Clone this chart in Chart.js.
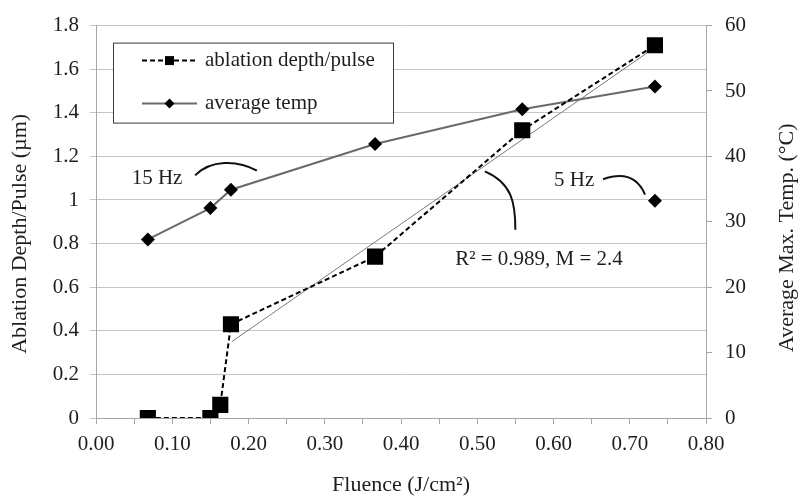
<!DOCTYPE html>
<html>
<head>
<meta charset="utf-8">
<script src="https://cdn.jsdelivr.net/npm/chart.js@4.4.0/dist/chart.umd.min.js"></script>
<style>
  html, body { margin: 0; padding: 0; background: #fff; }
</style>
</head>
<body>
<canvas id="fluenceChart" width="804" height="496"></canvas>
<script>
// 15 Hz ablation depth per pulse (um) vs fluence (J/cm2)
const depthFluence = [0.068, 0.150, 0.163, 0.177, 0.366, 0.559, 0.733];
const depthValues = [0, 0, 0.06, 0.43, 0.74, 1.32, 1.71];

// average max temperature (C)
const tempFluence = [0.068, 0.150, 0.177, 0.366, 0.559, 0.733];
const tempValues = [27.3, 32.1, 34.9, 41.9, 47.2, 50.7];

// single 5 Hz point
const temp5HzFluence = [0.733];
const temp5HzValues = [33.2];

// linear trend line ends (R2 = 0.989, M = 2.4)
const trendFluence = [0.178, 0.733];
const trendDepth = [0.35, 1.70];

const xTicks = { min: 0, max: 0.8, step: 0.05 };
const depthTicks = { min: 0, max: 1.8, step: 0.2 };
const tempTicks = { min: 0, max: 60, step: 10 };

const SERIF = "'Liberation Serif', 'Times New Roman', serif";
const TEXT = '#1e1e1e';

function pts(xs, ys) {
  return xs.map((x, i) => ({ x: x, y: ys[i] }));
}

// callouts, in data units (x = fluence, y = left axis)
const callouts = [
  { text: '15 Hz', at: [0.080, 1.10], align: 'center',
    curve: [[0.130, 1.113], [0.150, 1.185], [0.185, 1.185], [0.211, 1.135]] },
  { text: '5 Hz', at: [0.627, 1.09], align: 'center',
    curve: [[0.665, 1.095], [0.694, 1.131], [0.711, 1.099], [0.720, 1.025]] },
  { text: 'R\u00B2 = 0.989, M = 2.4', at: [0.471, 0.728], align: 'left',
    curve: [[0.510, 1.131], [0.546, 1.076], [0.550, 0.986], [0.550, 0.864]] }
];

const yTitles = [
  { text: 'Ablation Depth/Pulse (\u00B5m)', scale: 'y', side: 'left', offset: 20, shift: 12 },
  { text: 'Average Max. Temp. (\u00B0C)', scale: 'y1', side: 'right', offset: 17, shift: 16 }
];

const calloutPlugin = {
  id: 'callouts',
  afterDatasetsDraw(chart) {
    const { ctx } = chart;
    const sx = chart.scales.x, sy = chart.scales.y;
    ctx.save();
    ctx.font = '21px ' + SERIF;
    ctx.fillStyle = TEXT;
    ctx.textBaseline = 'middle';
    callouts.forEach(c => {
      ctx.textAlign = c.align;
      ctx.fillText(c.text, sx.getPixelForValue(c.at[0]), sy.getPixelForValue(c.at[1]));
      const p = c.curve.map(q => [sx.getPixelForValue(q[0]), sy.getPixelForValue(q[1])]);
      ctx.beginPath();
      ctx.strokeStyle = '#111';
      ctx.lineWidth = 2;
      ctx.moveTo(p[0][0], p[0][1]);
      ctx.bezierCurveTo(p[1][0], p[1][1], p[2][0], p[2][1], p[3][0], p[3][1]);
      ctx.stroke();
    });
    // both vertical titles read bottom to top
    ctx.font = '22px ' + SERIF;
    ctx.textAlign = 'center';
    yTitles.forEach(t => {
      const s = chart.scales[t.scale];
      const x = t.side === 'left' ? s.left + t.offset : s.right - t.offset;
      const y = (s.top + s.bottom) / 2 + t.shift;
      ctx.save();
      ctx.translate(x, y);
      ctx.rotate(-Math.PI / 2);
      ctx.fillText(t.text, 0, 0);
      ctx.restore();
    });
    ctx.restore();
  }
};

const legendPlugin = {
  id: 'boxLegend',
  afterDatasetsDraw(chart) {
    const { ctx, chartArea } = chart;
    const x = chartArea.left + 17, y = chartArea.top + 17, w = 280, h = 80;
    ctx.save();
    ctx.fillStyle = '#fff';
    ctx.fillRect(x, y, w, h);
    ctx.strokeStyle = '#3a3a3a';
    ctx.lineWidth = 1;
    ctx.strokeRect(x + 0.5, y + 0.5, w, h);
    [chart.data.datasets[0], chart.data.datasets[1]].forEach((ds, i) => {
      const cy = y + 18 + i * 43;
      ctx.beginPath();
      ctx.setLineDash(ds.borderDash || []);
      ctx.strokeStyle = ds.borderColor;
      ctx.lineWidth = ds.borderWidth;
      ctx.moveTo(x + 29, cy);
      ctx.lineTo(x + 84, cy);
      ctx.stroke();
      ctx.setLineDash([]);
      ctx.fillStyle = '#000';
      ctx.beginPath();
      if (ds.pointStyle === 'rect') {
        ctx.rect(x + 52, cy - 4.5, 9, 9);
      } else {
        ctx.moveTo(x + 56.5, cy - 5);
        ctx.lineTo(x + 61.5, cy);
        ctx.lineTo(x + 56.5, cy + 5);
        ctx.lineTo(x + 51.5, cy);
        ctx.closePath();
      }
      ctx.fill();
      ctx.font = '21px ' + SERIF;
      ctx.fillStyle = TEXT;
      ctx.textAlign = 'left';
      ctx.textBaseline = 'middle';
      ctx.fillText(ds.label, x + 92, cy);
    });
    ctx.restore();
  }
};

new Chart(document.getElementById('fluenceChart'), {
  type: 'scatter',
  data: {
    datasets: [
      {
        label: 'ablation depth/pulse',
        data: pts(depthFluence, depthValues),
        yAxisID: 'y',
        showLine: true,
        borderColor: '#000',
        borderWidth: 2,
        borderDash: [5, 3],
        pointStyle: 'rect',
        pointRadius: 10,
        pointHoverRadius: 10,
        pointBackgroundColor: '#000',
        pointBorderColor: '#000',
        order: 1
      },
      {
        label: 'average temp',
        data: pts(tempFluence, tempValues),
        yAxisID: 'y1',
        showLine: true,
        borderColor: '#6a6a6a',
        borderWidth: 2,
        pointStyle: 'rectRot',
        pointRadius: 7,
        pointHoverRadius: 7,
        pointBackgroundColor: '#000',
        pointBorderColor: '#000',
        pointBorderWidth: 0,
        order: 2
      },
      {
        label: '5 Hz',
        data: pts(temp5HzFluence, temp5HzValues),
        yAxisID: 'y1',
        showLine: false,
        pointStyle: 'rectRot',
        pointRadius: 7,
        pointBackgroundColor: '#000',
        pointBorderColor: '#000',
        pointBorderWidth: 0,
        order: 2
      },
      {
        label: 'trend',
        data: pts(trendFluence, trendDepth),
        yAxisID: 'y',
        showLine: true,
        borderColor: '#7a7a7a',
        borderWidth: 1,
        pointRadius: 0,
        order: 3
      }
    ]
  },
  options: {
    responsive: false,
    animation: false,
    events: [],
    layout: { padding: { top: 20, left: 0, right: 0, bottom: 0 } },
    plugins: { legend: { display: false }, tooltip: { enabled: false } },
    scales: {
      x: {
        type: 'linear',
        min: xTicks.min,
        max: xTicks.max,
        afterFit: s => { s.height = 78; },
        border: { color: '#a6a6a6' },
        grid: { drawOnChartArea: false, tickLength: 6, color: '#a6a6a6' },
        ticks: {
          stepSize: xTicks.step,
          autoSkip: false,
          maxRotation: 0,
          padding: 8,
          color: TEXT,
          font: { family: SERIF, size: 21 },
          callback: (v, i) => (i % 2 === 0 ? v.toFixed(2) : '')
        },
        title: {
          display: true,
          text: 'Fluence (J/cm\u00B2)',
          color: TEXT,
          font: { family: SERIF, size: 22, lineHeight: 1 },
          padding: { top: 0, bottom: 0 }
        }
      },
      y: {
        position: 'left',
        min: depthTicks.min,
        max: depthTicks.max,
        afterFit: s => { s.width = 96; },
        border: { color: '#a6a6a6' },
        grid: { color: '#c4c4c4', tickLength: 6 },
        ticks: {
          stepSize: depthTicks.step,
          padding: 11,
          color: TEXT,
          font: { family: SERIF, size: 21 },
          callback: v => String(+v.toFixed(1))
        },
        title: { display: false }
      },
      y1: {
        position: 'right',
        min: tempTicks.min,
        max: tempTicks.max,
        afterFit: s => { s.width = 98; },
        border: { color: '#a6a6a6' },
        grid: { drawOnChartArea: false, tickLength: 6, color: '#a6a6a6' },
        ticks: {
          stepSize: tempTicks.step,
          padding: 13,
          color: TEXT,
          font: { family: SERIF, size: 21 }
        },
        title: { display: false }
      }
    }
  },
  plugins: [calloutPlugin, legendPlugin]
});
</script>
</body>
</html>
